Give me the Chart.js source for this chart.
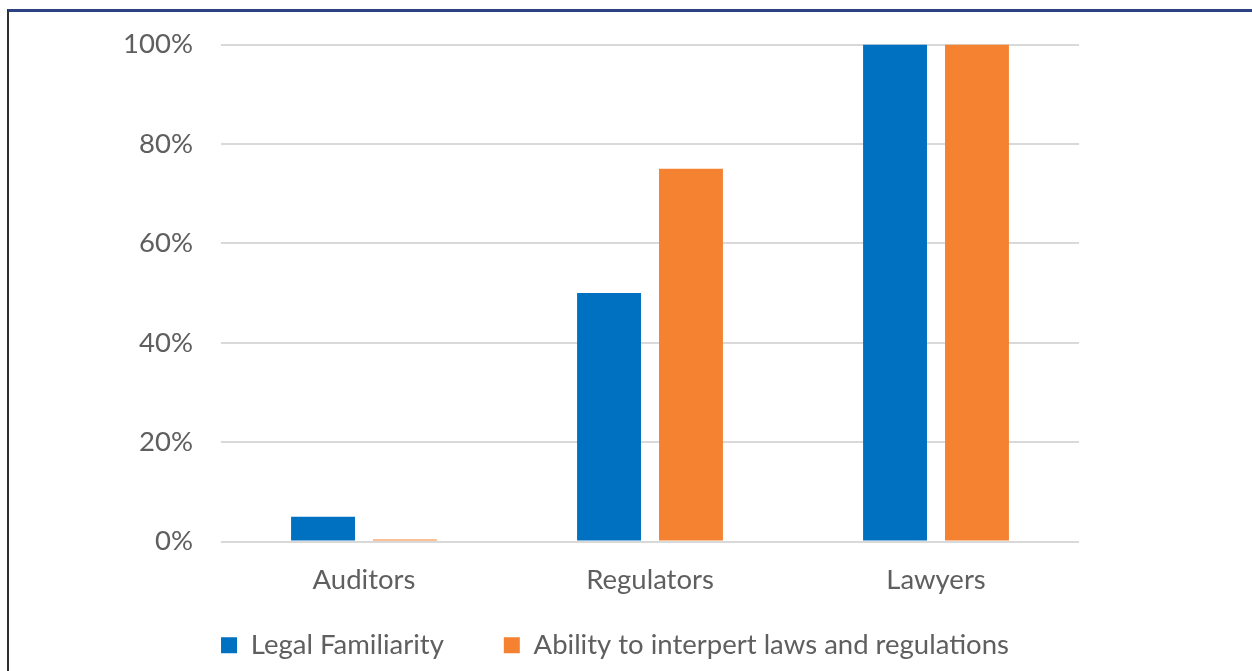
<!DOCTYPE html>
<html>
<head>
<meta charset="utf-8">
<script src="https://cdn.jsdelivr.net/npm/chart.js@4.4.0/dist/chart.umd.min.js"></script>
<style>
  html, body { margin: 0; padding: 0; background: #ffffff; }
  #wrap { position: relative; width: 1252px; height: 671px; overflow: hidden; background: #ffffff; }
  #frame {
    position: absolute; left: 7px; top: 9px; right: 0; bottom: 0;
    border-top: 3px solid #2c4283; border-left: 2px solid #2f2f2f;
  }
  #c { position: absolute; left: 0; top: 0; }
</style>
</head>
<body>
<div id="wrap">
  <div id="frame"></div>
  <canvas id="c" width="1252" height="671"></canvas>
</div>
<script>
// Groups along the x axis
const categories = ['Auditors', 'Regulators', 'Lawyers'];

// Series names and values (percent)
const seriesNames = ['Legal Familiarity', 'Ability to interpert laws and regulations'];
const legalFamiliarity = [5, 50, 100];
const abilityToInterpret = [0.4, 75, 100];

// Value axis ticks (percent)
const yTickValues = [0, 20, 40, 60, 80, 100];

const textColor = '#5f5f5f';
const fontFamily = 'Lato, "Open Sans", sans-serif';
const fontSize = 27.5;

// Let tick labels spill outside their axis box instead of being clipped
const noLabelClip = (scale) => { scale._computeLabelArea = () => undefined; };

new Chart(document.getElementById('c'), {
  type: 'bar',
  data: {
    labels: categories,
    datasets: [
      {
        label: seriesNames[0],
        data: legalFamiliarity,
        backgroundColor: '#0070c0',
        borderWidth: 0,
        categoryPercentage: 0.573,
        barPercentage: 0.78
      },
      {
        label: seriesNames[1],
        data: abilityToInterpret,
        backgroundColor: '#f58231',
        borderWidth: 0,
        categoryPercentage: 0.573,
        barPercentage: 0.78
      }
    ]
  },
  options: {
    responsive: false,
    animation: false,
    devicePixelRatio: 1,
    layout: { padding: { left: 151, right: 173, top: 43, bottom: 2 } },
    plugins: {
      tooltip: { enabled: false },
      legend: {
        position: 'bottom',
        labels: {
          color: textColor,
          font: { family: fontFamily, size: fontSize },
          boxWidth: 16,
          boxHeight: 16,
          padding: 60
        }
      }
    },
    scales: {
      x: {
        grid: { display: false, drawTicks: false },
        border: { display: false },
        ticks: {
          color: textColor,
          font: { family: fontFamily, size: fontSize },
          padding: 22.5
        },
        afterFit: (scale) => { scale.height = 30; noLabelClip(scale); }
      },
      y: {
        min: 0,
        max: 100,
        grid: { color: '#d9d9d9', lineWidth: 2, drawTicks: false },
        border: { display: false },
        ticks: {
          color: textColor,
          font: { family: fontFamily, size: fontSize },
          padding: 28,
          callback: (v) => v + '%'
        },
        afterBuildTicks: (scale) => { scale.ticks = yTickValues.map(v => ({ value: v })); },
        afterFit: (scale) => { scale.width = 70; noLabelClip(scale); }
      }
    }
  }
});
</script>
</body>
</html>
